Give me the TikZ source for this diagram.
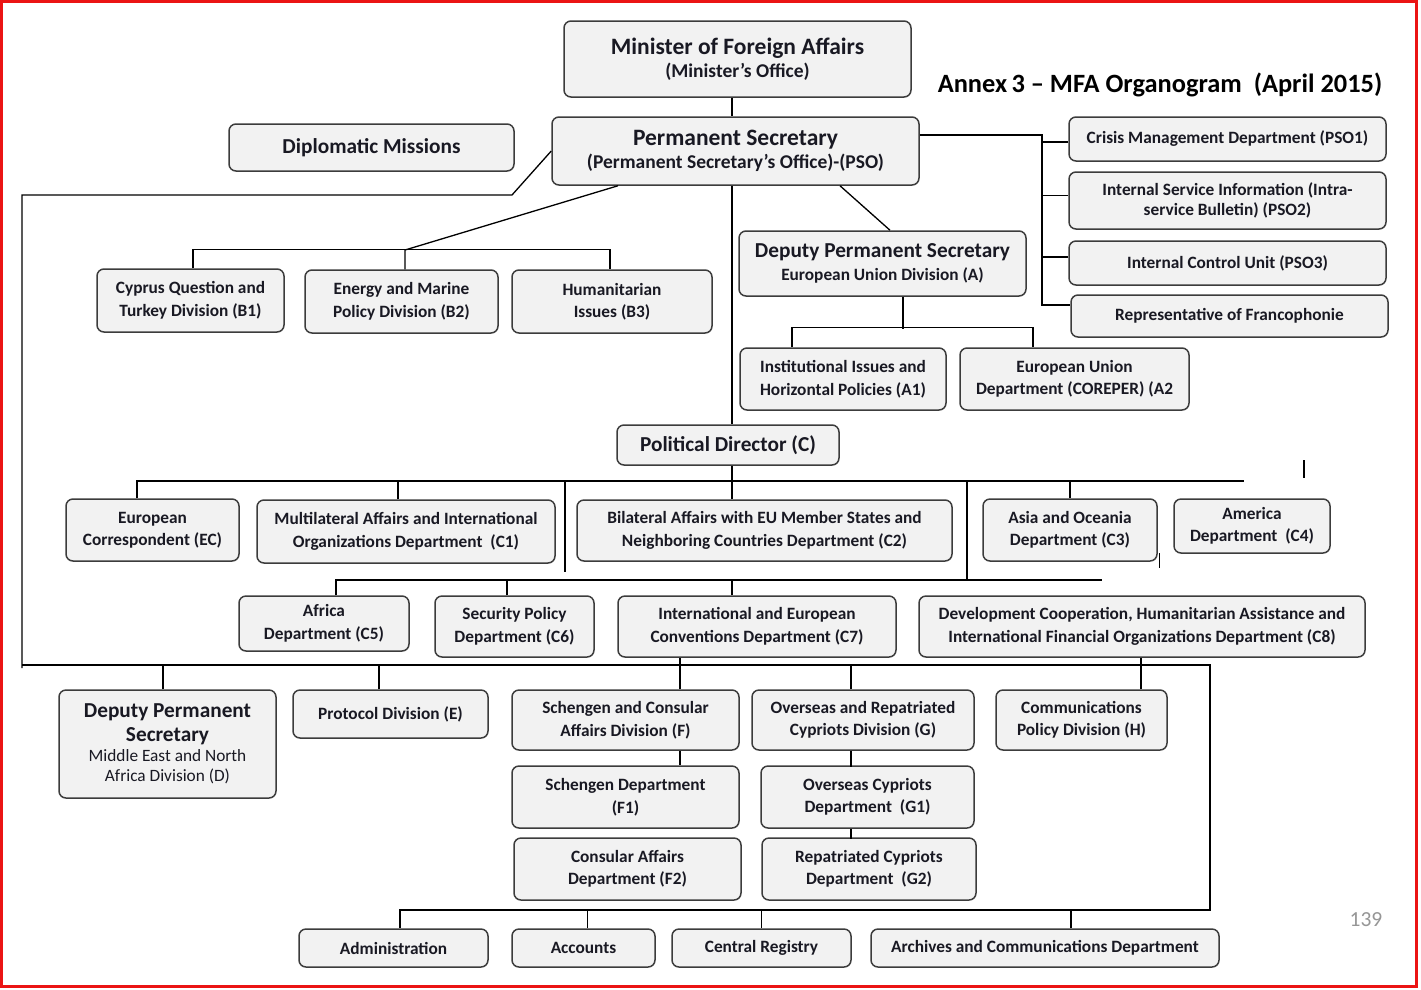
\documentclass[tikz,border=0pt]{standalone}
\usepackage{fontspec}
\setmainfont{Carlito}
\usetikzlibrary{calc}
\definecolor{boxfill}{RGB}{242,242,242}
\definecolor{boxdraw}{RGB}{60,60,60}
\definecolor{txt}{RGB}{25,25,35}
\definecolor{frame}{RGB}{235,20,20}
\definecolor{pgnum}{RGB}{150,150,150}
\tikzset{
  box/.style={draw=boxdraw, line width=1.5pt, fill=boxfill, rounded corners=7pt,
    align=center, inner sep=2pt, text=txt, font=\fontsize{17.3}{22.5}\selectfont\bfseries},
  link/.style={draw=black, line width=1.3pt},
}
\newcommand\mybox[6]{\node[box,minimum width={#4pt-#2pt},minimum height={#5pt-#3pt}] (#1) at ({(#2+#4)/2},{(#3+#5)/2}) {#6};}
\newcommand\hugt{\fontsize{23.5}{24}\selectfont}
\newcommand\bigt{\fontsize{21.3}{24}\selectfont}
\newcommand\midt{\fontsize{19.5}{24}\selectfont}
\newcommand\smt{\fontsize{17.3}{20}\selectfont}
\begin{document}
\begin{tikzpicture}[x=1pt,y=-1pt]
\useasboundingbox (0,0) rectangle (1421,989);
\fill[white] (0,0) rectangle (1421,989);
\draw[frame, line width=3pt] (1.5,1.5) rectangle (1416.5,986.5);

% ---- boxes
\mybox{min}{564}{21}{911}{97}{{\hugt Minister of Foreign Affairs}\\{\midt (Minister’s Office)}}
\mybox{ps}{552}{117}{919}{185}{{\hugt Permanent Secretary}\\{\midt (Permanent Secretary’s Office)-(PSO)}}
\mybox{dm}{229}{124}{514}{171}{{\bigt Diplomatic Missions}}
\mybox{pso1}{1069}{117}{1386}{161}{Crisis Management Department (PSO1)}
\mybox{pso2}{1069}{172}{1386}{229}{Internal Service Information (Intra-\\[-2pt]service Bulletin) (PSO2)}
\mybox{pso3}{1069}{241}{1386}{285}{Internal Control Unit (PSO3)}
\mybox{fr}{1071}{295}{1388}{337}{Representative of Francophonie}
\mybox{b1}{97}{269}{284}{332}{Cyprus Question and\\Turkey Division (B1)}
\mybox{b2}{305}{270}{498}{333}{Energy and Marine\\Policy Division (B2)}
\mybox{b3}{512}{270}{712}{333}{Humanitarian\\Issues (B3)}
\mybox{dpa}{739}{231}{1026}{296}{{\bigt Deputy Permanent Secretary}\\{\smt European Union Division (A)}}
\mybox{a1}{740}{348}{946}{410}{Institutional Issues and\\Horizontal Policies (A1)}
\mybox{a2}{960}{348}{1189}{410}{European Union\\Department (COREPER) (A2}
\mybox{pd}{617}{425}{839}{465}{{\bigt Political Director (C)}}
\mybox{ec}{66}{499}{239}{561}{European\\Correspondent (EC)}
\mybox{c1}{257}{500}{555}{563}{Multilateral Affairs and International\\Organizations Department\ \ (C1)}
\mybox{c2}{577}{500}{952}{561}{Bilateral Affairs with EU Member States and\\Neighboring Countries Department (C2)}
\mybox{c3}{983}{499}{1157}{561}{Asia and Oceania\\Department (C3)}
\mybox{c4}{1174}{499}{1330}{553}{America\\Department\ \ (C4)}
\mybox{c5}{239}{596}{409}{651}{Africa\\Department (C5)}
\mybox{c6}{435}{596}{594}{657}{Security Policy\\Department (C6)}
\mybox{c7}{618}{596}{896}{657}{International and European\\Conventions Department (C7)}
\mybox{c8}{919}{596}{1365}{657}{Development Cooperation, Humanitarian Assistance and\\International Financial Organizations Department (C8)}
\mybox{dpd}{59}{690}{276}{798}{{\bigt Deputy Permanent}\\[1pt]{\bigt Secretary}\\[-2pt]{\smt\mdseries Middle East and North}\\[-3pt]{\smt\mdseries Africa Division (D)}}
\mybox{e}{293}{690}{488}{738}{Protocol Division (E)}
\mybox{f}{512}{690}{739}{750}{Schengen and Consular\\Affairs Division (F)}
\mybox{g}{752}{690}{974}{750}{Overseas and Repatriated\\Cypriots Division (G)}
\mybox{h}{996}{690}{1167}{750}{Communications\\Policy Division (H)}
\mybox{f1}{512}{766}{739}{828}{Schengen Department\\(F1)}
\mybox{g1}{761}{766}{974}{828}{Overseas Cypriots\\Department\ \ (G1)}
\mybox{f2}{514}{838}{741}{900}{Consular Affairs\\Department (F2)}
\mybox{g2}{762}{838}{976}{900}{Repatriated Cypriots\\Department\ \ (G2)}
\mybox{adm}{299}{929}{488}{967}{Administration}
\mybox{acc}{512}{929}{655}{967}{Accounts}
\mybox{cr}{672}{929}{851}{967}{Central Registry}
\mybox{arc}{871}{929}{1219}{967}{Archives and Communications Department}

\node[font=\fontsize{26.4}{30}\selectfont\bfseries, text=black, inner sep=0pt] (title) at (1160,85) {Annex\,3 – MFA Organogram\ \ (April 2015)};
\node[font=\fontsize{21.5}{24}\selectfont, text=pgnum, inner sep=0pt] (pg) at (1366,920) {139};

% ---- connectors
\coordinate (vx) at (732,0);
\draw[link] (min.south -| vx) -- (ps.north -| vx);
\draw[link] (ps.south -| vx) -- (pd.north -| vx);

% PSO units
\coordinate (pr) at (1042,135);
\draw[link] (ps.east |- pr) -- (pr) |- ([yshift=11pt]fr.west);
\draw[link] ([yshift=-3pt]pso1.west) -- ++(-27,0);
\draw[link] ([yshift=5pt]pso2.west) -- ++(-27,0);
\draw[link] ([yshift=6pt]pso3.west) -- ++(-27,0);

% B divisions
\coordinate (bj) at (405,250);
\draw[link] (b2.north -| bj) -- (bj) -- ([xshift=-117.5pt]ps.south);
\draw[link] ([xshift=2.5pt]b1.north) -- ++(0,-19) -| ([xshift=-2pt]b3.north);

% A division
\draw[link] ([xshift=104.5pt]ps.south) -- ([xshift=7.5pt]dpa.north);
\draw[link] ([xshift=20.5pt]dpa.south) -- ++(0,32);
\draw[link] ([xshift=-51pt]a1.north) -- ++(0,-20) -| ([xshift=-41.5pt]a2.north);

% C row
\coordinate (ct) at (732,481);
\coordinate (ctr) at (1244,481);
\draw[link] (pd.south -| vx) -- (ct);
\draw[link] ([xshift=-15.5pt]ec.north) |- (ctr);
\draw[link] ([xshift=-8pt]c1.north) -- ++(0,-19);
\draw[link] ([xshift=-32.5pt]c2.north) -- ++(0,-19);
\draw[link] (c3.north) -- ++(0,-18);
\coordinate (v1t) at (565,481);
\coordinate (v1b) at (565,572);
\coordinate (v2t) at (967,481);
\coordinate (cl) at (336,580);
\coordinate (crr) at (1102,580);
\draw[link] (v1t) -- (v1b);
\draw[link] (v2t) -- (v2t |- cl);
\draw[link] (cl) -- (crr);
\draw[link] ([xshift=12pt]c5.north) -- ++(0,-16);
\draw[link] ([xshift=-7.5pt]c6.north) -- ++(0,-16);
\draw[link] ([xshift=-25pt]c7.north) -- ++(0,-16);
\coordinate (s1) at (1304,460);
\coordinate (s2) at (1159,553);
\draw[link] (s1) -- ++(0,18);
\draw[link, line width=1pt] (s2) -- ++(0,15);

% left loop and lower units
\coordinate (dl) at (512,195);
\coordinate (ll) at (22,195);
\coordinate (lb) at (22,665);
\coordinate (rb) at (1210,665);
\coordinate (rbb) at (1210,910);
\coordinate (lbb) at (400,910);
\draw[link] (ps.west) -- (dl) -- (ll) -- ([yshift=-3pt]lb);
\draw[link] (lb) -- (rb) -- (rbb) -- (lbb) -- (adm.north -| lbb);
\draw[link] ([xshift=4pt]acc.north) -- ([xshift=4pt]acc.north |- rbb);
\draw[link] (cr.north) -- (cr.north |- rbb);
\draw[link] ([xshift=26pt]arc.north) -- ++(0,-19);
\draw[link] ([xshift=-4.5pt]dpd.north) -- ++(0,-25);
\draw[link] ([xshift=-11.5pt]e.north) -- ++(0,-25);
\draw[link] ([xshift=54.5pt]f.north) -- ([xshift=54.5pt]f.north |- c7.south);
\draw[link] ([xshift=54.5pt]f.south) -- ([xshift=54.5pt]f.south |- f1.north);
\draw[link] ([xshift=-12pt]g.north) -- ++(0,-25);
\draw[link] ([xshift=-12pt]g.south) -- ++(0,16);
\draw[link] ([xshift=-16.5pt]g1.south) -- ++(0,10);
\draw[link] ([xshift=59.5pt]h.north) -- ([xshift=59.5pt]h.north |- c8.south);
\end{tikzpicture}
\end{document}
